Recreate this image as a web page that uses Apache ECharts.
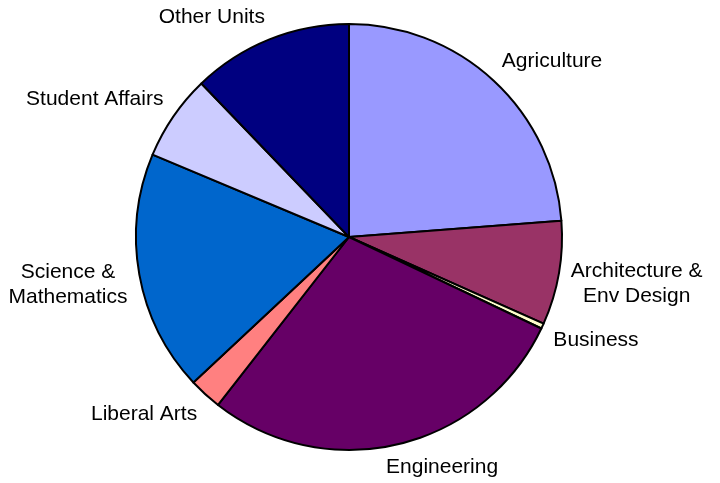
<!DOCTYPE html>
<html>
<head>
<meta charset="utf-8">
<script src="https://cdn.jsdelivr.net/npm/echarts@6/dist/echarts.min.js"></script>
<style>html,body{margin:0;padding:0;background:#fff}#c{width:720px;height:483px}</style>
</head>
<body>
<div id="c"></div>
<script>
const categories = ['Agriculture', 'Architecture &\nEnv Design', 'Business', 'Engineering', 'Liberal Arts', 'Science &\nMathematics', 'Student Affairs', 'Other Units'];
const values = [23.8, 7.9, 0.4, 28.5, 2.5, 18.3, 6.5, 12.2];
const colors = ['#9999FF', '#993366', '#FFFFCC', '#660066', '#FF8080', '#0066CC', '#CCCCFF', '#000080'];

const CX = 349, CY = 237, R = 213, GAP = 12, KX = 3.2, KY = 2;
const total = values.reduce((a, b) => a + b, 0);
const mids = [];
let acc = 0;
values.forEach(v => { mids.push((acc + v / 2) / total * 2 * Math.PI); acc += v; });

function f(v, k) { return Math.sign(v) * Math.min(1, k * Math.abs(v)); }

const chart = echarts.init(document.getElementById('c'));
chart.setOption({
  animation: false,
  series: [{
    type: 'pie',
    center: [CX, CY],
    radius: R,
    startAngle: 90,
    clockwise: true,
    avoidLabelOverlap: false,
    silent: true,
    data: categories.map((n, i) => ({ name: n, value: values[i], itemStyle: { color: colors[i] } })),
    itemStyle: { borderColor: '#000', borderWidth: 2 },
    label: {
      show: true, position: 'outside', formatter: '{b}',
      fontFamily: 'Liberation Sans, Arial, sans-serif', fontSize: 21, lineHeight: 25,
      color: '#000', align: 'center'
    },
    labelLine: { show: false },
    labelLayout: function (p) {
      const a = mids[p.dataIndex];
      const s = Math.sin(a), c = Math.cos(a);
      const w = p.labelRect.width, h = p.labelRect.height - 3;
      const d = R + GAP;
      const x = CX + s * d + f(s, KX) * w / 2;
      const y = CY - c * d - f(c, KY) * h / 2;
      return { x: x, y: y, align: 'center', verticalAlign: 'middle' };
    }
  }]
});
</script>
</body>
</html>
